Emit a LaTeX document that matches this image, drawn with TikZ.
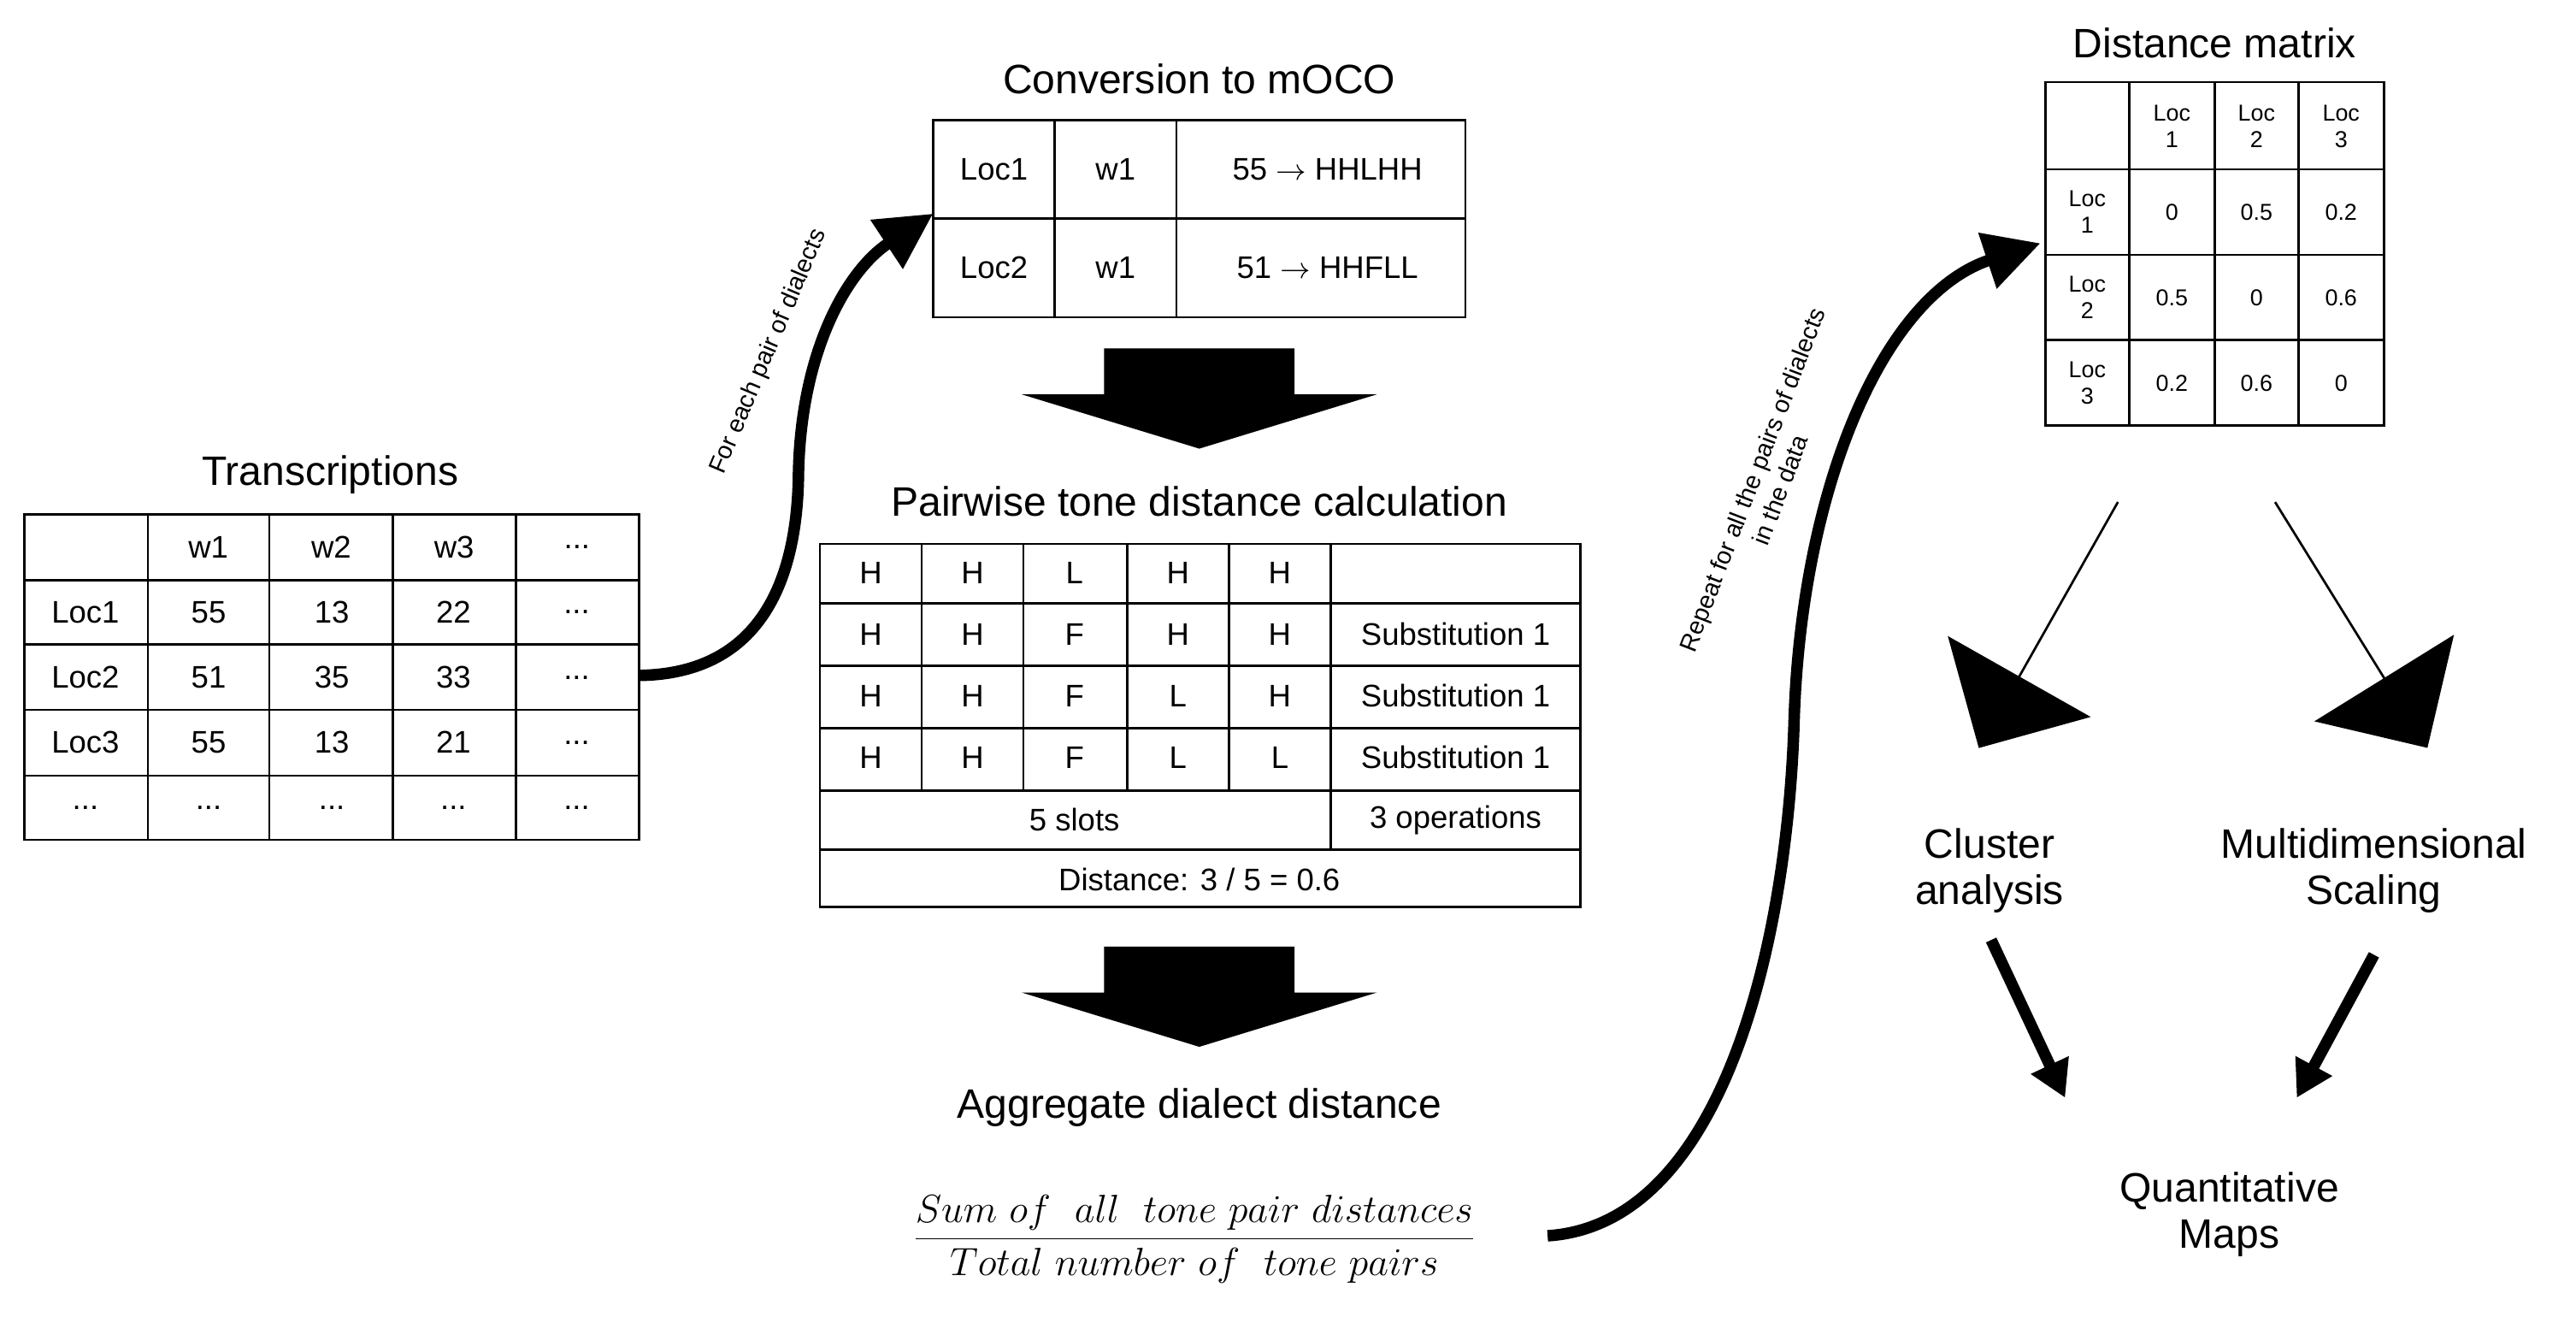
\documentclass[tikz,border=0pt]{standalone}
\usepackage{fontspec}
\setmainfont{Liberation Sans}
\usetikzlibrary{arrows.meta,shapes.arrows}
\newcommand\myell{.{}.{}.}
\begin{document}
\begin{tikzpicture}[x=0.5pt,y=-0.5pt,
  ttl/.style={font=\fontsize{12.5}{14}\selectfont},
  cell/.style={font=\fontsize{9.5}{11}\selectfont},
  small/.style={font=\fontsize{7}{8}\selectfont,align=center},
  grid/.style={line width=0.7pt},
  curve/.style={line width=3.5pt,-{Triangle[length=17pt,width=17pt]}},
  thin/.style={line width=3.5pt,-{Triangle[length=11pt,width=12pt]}},
  blk/.style={fill=black},
  bigarr/.style={single arrow,fill=black,minimum width=50pt,single arrow head extend=14pt,single arrow tip angle=90,inner sep=0pt}]
\useasboundingbox (0,0) rectangle (1568,805);
% ---------- Transcriptions
\node[ttl] (t1) at (201,289) {Transcriptions};
\draw[grid] (15,313) rectangle (389,511);
\foreach \x in {90,164,239,314} \draw[grid] (\x,313) -- (\x,511);
\foreach \y in {353,392,432,472} \draw[grid] (15,\y) -- (389,\y);
\foreach \t [count=\i] in {w1,w2,w3,\myell} \node[cell] (th\i) at ({52+74.8*\i},333) {\t};
\foreach \a/\b/\c/\d/\e [count=\j] in {Loc1/55/13/22/\myell,Loc2/51/35/33/\myell,Loc3/55/13/21/\myell,\myell/\myell/\myell/\myell/\myell}{
  \node[cell] (tr\j a) at (52,{333+39.6*\j}) {\a};
  \node[cell] (tr\j b) at (127,{333+39.6*\j}) {\b};
  \node[cell] (tr\j c) at (202,{333+39.6*\j}) {\c};
  \node[cell] (tr\j d) at (276,{333+39.6*\j}) {\d};
  \node[cell] (tr\j e) at (351,{333+39.6*\j}) {\e};}
\coordinate (tout) at (389,411);
% ---------- mOCO
\node[ttl] (t2) at (730,48) {Conversion to mOCO};
\draw[grid] (568,73) rectangle (892,193);
\draw[grid] (642,73) -- (642,193) (716,73) -- (716,193) (568,133) -- (892,133);
\node[cell] (m1a) at (605,103) {Loc1};
\node[cell] (m1b) at (679,103) {w1};
\node[cell] (m1c) at (808,103) {55 $\rightarrow$ HHLHH};
\node[cell] (m2a) at (605,163) {Loc2};
\node[cell] (m2b) at (679,163) {w1};
\node[cell] (m2c) at (808,163) {51 $\rightarrow$ HHFLL};
\coordinate (min) at (568,130);
% block arrows down
\fill[blk] (672,212) -- (788,212) -- (788,240) -- (838,240) -- (730,273) -- (622,240) -- (672,240) -- cycle;
\fill[blk] (672,576) -- (788,576) -- (788,604) -- (838,604) -- (730,637) -- (622,604) -- (672,604) -- cycle;
% ---------- Pairwise
\node[ttl] (t3) at (730,305) {Pairwise tone distance calculation};
\draw[grid] (499,331) rectangle (962,552);
\foreach \y in {367,405,443,481,517} \draw[grid] (499,\y) -- (962,\y);
\foreach \x in {561,623,686,748} \draw[grid] (\x,331) -- (\x,481);
\draw[grid] (810,331) -- (810,517);
\foreach \a/\b/\c/\d/\e/\f [count=\j] in {H/H/L/H/H/{},H/H/F/H/H/Substitution 1,H/H/F/L/H/Substitution 1,H/H/F/L/L/Substitution 1}{
  \node[cell] (p\j a) at (530,{311+37.5*\j}) {\a};
  \node[cell] (p\j b) at (592,{311+37.5*\j}) {\b};
  \node[cell] (p\j c) at (654,{311+37.5*\j}) {\c};
  \node[cell] (p\j d) at (717,{311+37.5*\j}) {\d};
  \node[cell] (p\j e) at (779,{311+37.5*\j}) {\e};
  \node[cell] (p\j f) at (886,{311+37.5*\j}) {\f};}
\node[cell] (slots) at (654,499) {5 slots};
\node[cell] (ops) at (886,499) {3 operations};
\node[cell] (dist) at (730,535) {Distance: 3 / 5 = 0.6};
% ---------- Aggregate
\node[ttl] (t4) at (730,674) {Aggregate dialect distance};
\node[font=\fontsize{13}{15}\selectfont] (frac) at (727,754) {$\displaystyle\frac{Sum\ of\ \ all\ \ tone\ pair\ distances}{Total\ number\ of\ \ tone\ pairs}$};
\coordinate (fout) at (942,752);
% ---------- Distance matrix
\node[ttl] (t5) at (1348,26) {Distance matrix};
\draw[grid] (1245,50) rectangle (1451,259);
\foreach \x in {1296,1348,1399} \draw[grid] (\x,50) -- (\x,259);
\foreach \y in {103,155,207} \draw[grid] (1245,\y) -- (1451,\y);
\foreach \i in {1,2,3}{
  \node[small] (dh\i) at ({1270.5+51.5*\i},77) {Loc\\\i};
  \node[small] (dr\i) at (1270.5,{77+52*\i}) {Loc\\\i};}
\foreach \a/\b/\c [count=\j] in {0/0.5/0.2,0.5/0/0.6,0.2/0.6/0}{
  \node[small] (d\j a) at (1322,{77+52*\j}) {\a};
  \node[small] (d\j b) at (1373.5,{77+52*\j}) {\b};
  \node[small] (d\j c) at (1425,{77+52*\j}) {\c};}
\coordinate (min2) at (1242,148);
% big diagonal arrows
\node[bigarr,minimum height=86pt,rotate=240.5] (ba1) at (1247,380) {};
\node[bigarr,minimum height=88pt,rotate=-58.2] (ba2) at (1431,380) {};
% outputs
\node[ttl,align=center] (ca) at (1211,530) {Cluster\\analysis};
\node[ttl,align=center] (mds) at (1445,530) {Multidimensional\\Scaling};
\node[ttl,align=center] (qm) at (1357,739) {Quantitative\\Maps};
\draw[thin] (1212,572) -- (1257,668);
\draw[thin] (1445,581) -- (1398,668);
% ---------- curved arrows
\draw[curve] (tout) .. controls (465,410) and (485,350) .. (486,290) .. controls (487,215) and (515,165) .. (min);
\node[font=\fontsize{7.5}{9}\selectfont,rotate=67] (lab1) at (468,214) {For each pair of dialects};
\draw[curve] (fout) .. controls (1050,745) and (1088,570) .. (1092,440) .. controls (1096,300) and (1145,180) .. (min2);
\node[font=\fontsize{7.5}{9}\selectfont,rotate=69,align=center] (lab2) at (1075,295) {Repeat for all the pairs of dialects\\in the data};
\end{tikzpicture}
\end{document}
